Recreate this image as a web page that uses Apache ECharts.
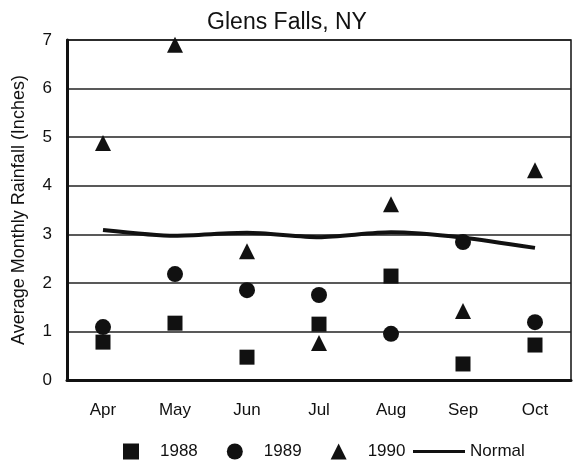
<!DOCTYPE html>
<html><head><meta charset="utf-8">
<script src="https://cdn.jsdelivr.net/npm/echarts@6/dist/echarts.min.js"></script>
<style>html,body{margin:0;padding:0;background:#fff}#c{width:573px;height:464px}</style>
</head><body><div id="c"></div>
<script>
var months = ['Apr','May','Jun','Jul','Aug','Sep','Oct'];
var y1988 = [0.78, 1.17, 0.47, 1.15, 2.14, 0.33, 0.72];
var y1989 = [1.09, 2.18, 1.85, 1.75, 0.95, 2.84, 1.19];
var y1990 = [4.88, 6.9, 2.65, 0.76, 3.62, 1.42, 4.32];
var normal = [3.09, 2.97, 3.03, 2.94, 3.04, 2.93, 2.72];
var yTicks = [0,1,2,3,4,5,6,7];

var chart = echarts.init(document.getElementById('c'));
var font = 'Liberation Sans, Arial, sans-serif';
chart.setOption({
  animation: false,
  backgroundColor: '#fff',
  textStyle: {fontFamily: font, color: '#111'},
  title: {text: 'Glens Falls, NY', left: 282, textAlign: 'center', top: 6,
    textStyle: {fontFamily: font, fontSize: 23, fontWeight: 'normal', color: '#111'}},
  grid: {left: 67, right: 2, top: 40, bottom: 84, show: true, borderColor: '#111', borderWidth: 1.5},
  legend: [{
    data: [{name:'1988', icon:'rect'},{name:'1989', icon:'circle'},{name:'1990', icon:'triangle'}],
    left: 123, top: 443, padding: 0, itemWidth: 16, itemHeight: 16, itemGap: 29,
    textStyle: {fontFamily: font, fontSize: 17, color: '#111', padding: [0,0,0,16]}
  },{
    data: [{name:'Normal', icon:'rect'}],
    left: 413, top: 443, padding: 0, itemWidth: 52, itemHeight: 3, itemGap: 0,
    textStyle: {fontFamily: font, fontSize: 17, color: '#111', padding: [0,0,0,0]}
  }],
  xAxis: {type: 'category', data: months, boundaryGap: true,
    axisLine: {show: true, lineStyle: {color: '#111', width: 3}},
    axisTick: {show: false},
    axisLabel: {fontFamily: font, fontSize: 17, color: '#111', margin: 22}
  },
  yAxis: {type: 'value', min: 0, max: 7, interval: 1,
    name: 'Average Monthly Rainfall (Inches)', nameLocation: 'middle', nameGap: 39, nameRotate: 90,
    nameTextStyle: {fontFamily: font, fontSize: 18, color: '#111'},
    axisLine: {show: true, lineStyle: {color: '#111', width: 3}},
    axisTick: {show: false},
    axisLabel: {fontFamily: font, fontSize: 17, color: '#111', margin: 15,
      formatter: function(v){ return yTicks.indexOf(v) >= 0 ? String(v) : ''; }},
    splitLine: {show: true, lineStyle: {color: '#222', width: 1.5}}
  },
  series: [
    {name: '1988', type: 'scatter', data: y1988, symbol: 'rect', symbolSize: 15, itemStyle: {color: '#111', opacity: 1}},
    {name: '1989', type: 'scatter', data: y1989, symbol: 'circle', symbolSize: 16, itemStyle: {color: '#111', opacity: 1}},
    {name: '1990', type: 'scatter', data: y1990, symbol: 'triangle', symbolSize: 16, itemStyle: {color: '#111', opacity: 1}},
    {name: 'Normal', type: 'line', data: normal, symbol: 'none', smooth: 0.25,
      lineStyle: {color: '#111', width: 4}, itemStyle: {color: '#111'}}
  ]
});
</script></body></html>
